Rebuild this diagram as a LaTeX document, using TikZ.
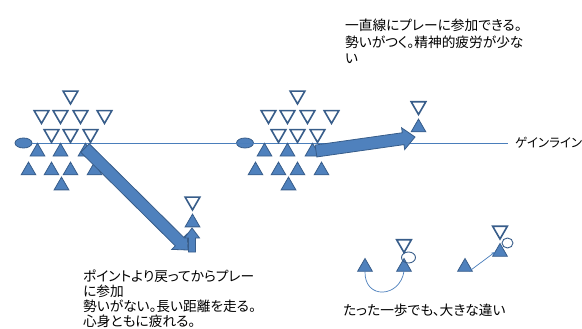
\documentclass[tikz,border=0pt]{standalone}
\usepackage{fontspec}
\newfontfamily\jp[RawFeature=+palt]{Noto Sans CJK JP}
\usetikzlibrary{shapes.geometric,arrows.meta}
\definecolor{tblue}{HTML}{4F81BD}
\definecolor{tedge}{HTML}{385D8A}
\definecolor{lblue}{HTML}{4A7EBB}
\tikzset{
  uptri/.style={regular polygon, regular polygon sides=3, minimum size=17pt, inner sep=0pt, outer sep=0pt, fill=tblue, draw=tedge, line width=0.8pt},
  dntri/.style={regular polygon, regular polygon sides=3, shape border rotate=180, minimum size=17pt, inner sep=0pt, outer sep=0pt, fill=white, draw=tedge, line width=1.6pt},
  ball/.style={ellipse, minimum width=17pt, minimum height=10pt, inner sep=0pt, fill=tblue, draw=tedge, line width=0.8pt},
  blockarrow/.style={fill=tblue, draw=tedge, line width=0.8pt, line join=miter},
  jtext/.style={font=\jp\fontsize{13.7}{16.5}\selectfont, inner sep=0pt, align=left, anchor=base west},
  gline/.style={draw=lblue, line width=0.8pt},
  thinl/.style={draw=lblue, line width=0.7pt},
  loopl/.style={draw=tedge, line width=0.9pt}
}
\begin{document}
\begin{tikzpicture}[x=1pt,y=1pt]
\useasboundingbox (0,0) rectangle (582,-329);
% gain line
\node[ball] (ballL) at (23.5,-143) {};
\node[ball] (ballR) at (245,-143) {};
\coordinate (glend) at (508,-143);
\draw[gline] (ballL.east) -- (glend);
\node[jtext, font=\jp\fontsize{12.5}{14}\selectfont] (gain) at (515,-147.5) {ゲインライン};

% formations
\foreach \dx/\p in {0/L,227/R}{
  \begin{scope}[xshift=\dx pt]
  \node[dntri] (\p d1) at (70.5,-95.4) {};
  \node[dntri] (\p d2) at (41.5,-114.9) {};
  \node[dntri] (\p d3) at (60.5,-114.9) {};
  \node[dntri] (\p d4) at (80.5,-114.9) {};
  \node[dntri] (\p d5) at (104.5,-114.9) {};
  \node[dntri] (\p d6) at (51.5,-133.9) {};
  \node[dntri] (\p d7) at (70.5,-133.9) {};
  \node[dntri] (\p d8) at (90.5,-133.9) {};
  \node[uptri] (\p u1) at (37.5,-151.8) {};
  \node[uptri] (\p u2) at (60.5,-151.8) {};
  \node[uptri] (\p u3) at (85.5,-151.8) {};
  \node[uptri] (\p u4) at (28.5,-170.6) {};
  \node[uptri] (\p u5) at (51.5,-170.6) {};
  \node[uptri] (\p u6) at (70.5,-170.6) {};
  \node[uptri] (\p u7) at (94.5,-170.6) {};
  \node[uptri] (\p u8) at (61.5,-185.6) {};
  \end{scope}
}

% left single pair
\node[dntri] (sd1) at (192.5,-201.4) {};
\node[uptri] (su1) at (192.5,-222.6) {};
% right single pair
\node[dntri] (sd2) at (418.5,-106) {};
\node[uptri] (su2) at (418.5,-127.6) {};

% big arrow left
\coordinate (aL1) at (85,-148);
\coordinate (aL2) at (188,-250);
\begin{scope}[shift={(aL1)}, rotate=-44.72]
  \draw[blockarrow] (0,-6) -- (133,-6) -- (133,-11) -- (145,0) -- (133,11) -- (133,6) -- (0,6) -- cycle;
\end{scope}
% small up arrow
\coordinate (aU1) at (192,-252);
\begin{scope}[shift={(aU1)}, rotate=90]
  \draw[blockarrow] (0,-3.5) -- (14,-3.5) -- (14,-7.5) -- (24,0) -- (14,7.5) -- (14,3.5) -- (0,3.5) -- cycle;
\end{scope}
% big arrow right
\coordinate (aR1) at (316,-151);
\coordinate (aR2) at (415,-137);
\begin{scope}[shift={(aR1)}, rotate=8.05]
  \draw[blockarrow] (0,-6) -- (88,-6) -- (88,-11) -- (100,0) -- (88,11) -- (88,6) -- (0,6) -- cycle;
\end{scope}

% bottom right, left pair
\node[uptri] (bu1) at (365,-267) {};
\node[dntri] (bd2) at (404,-244) {};
\node[uptri] (bu2) at (404,-267) {};
\draw[loopl] (408.5,-257.5) ellipse (7 and 5.5);
\draw[thinl] (bu1.south) .. controls (364,-300) and (400,-298) .. (bu2.south);
% bottom right, right pair
\node[uptri] (bu3) at (465,-267) {};
\node[dntri] (bd4) at (500,-230.5) {};
\node[uptri] (bu4) at (500,-252) {};
\draw[loopl] (507.5,-243) ellipse (5.5 and 5);
\draw[thinl, -{Stealth[length=4pt,width=3.5pt]}] (bu3.south east) -- (bu4.west);

% texts
\node[jtext] (t1) at (345,-63.5) {一直線にプレーに参加できる。\\勢いがつく。精神的疲労が少な\\い};
\node[jtext, font=\jp\fontsize{13.7}{15}\selectfont] (t2) at (83,-326.2) {ポイントより戻ってからプレー\\に参加\\勢いがない。長い距離を走る。\\心身ともに疲れる。};
\node[jtext] (t3) at (343,-315.2) {たった一歩でも、大きな違い};
\end{tikzpicture}
\end{document}
